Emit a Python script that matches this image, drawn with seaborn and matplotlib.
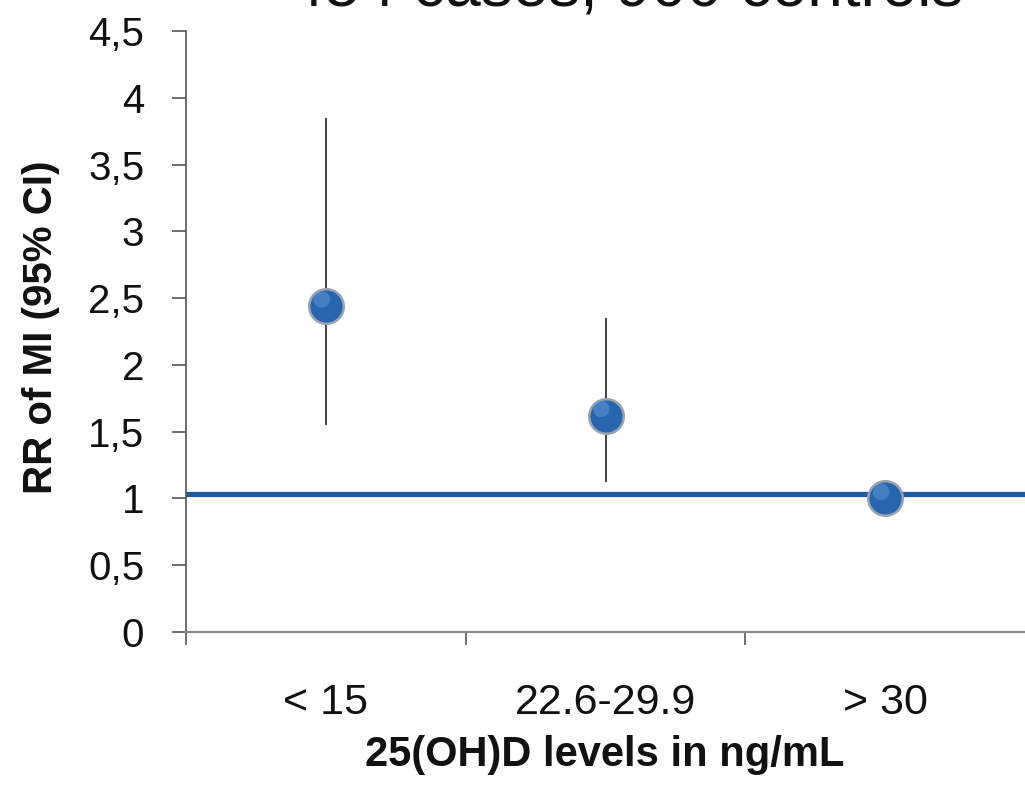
import matplotlib
matplotlib.use("Agg")
import matplotlib.pyplot as plt
import seaborn as sns
import pandas as pd

# ---- data ----
categories = ["< 15", "22.6-29.9", "> 30"]
rr = [2.44, 1.62, 1.0]
ci_low = [1.55, 1.12, 1.0]
ci_high = [3.85, 2.35, 1.0]
reference_rr = 1.03
y_ticks = [0, 0.5, 1, 1.5, 2, 2.5, 3, 3.5, 4, 4.5]
y_tick_labels = ["0", "0,5", "1", "1,5", "2", "2,5", "3", "3,5", "4", "4,5"]
title_text = "454 cases, 900 controls"
x_label = "25(OH)D levels in ng/mL"
y_label = "RR of MI (95% CI)"

sns.set_theme(style="white")
plt.rcParams["font.family"] = ["Liberation Sans", "DejaVu Sans"]

df = pd.DataFrame({"pos": range(len(categories)), "cat": categories, "rr": rr,
                   "lo": ci_low, "hi": ci_high})

fig = plt.figure(figsize=(10.25, 7.99), dpi=100)
ax = fig.add_axes([186 / 1025, 1 - 632 / 799, 1 - 186 / 1025, (632 - 31) / 799])

# reference line
ax.axhline(reference_rr, color="#1d5a9c", lw=3.8, zorder=1)

# CI lines
ax.vlines(df["pos"], df["lo"], df["hi"], color="#333333", lw=1.3, zorder=2)

# points
sns.scatterplot(data=df, x="pos", y="rr", ax=ax, s=620, color="#2766ae",
                edgecolor="#9aa3b0", linewidth=1.8, zorder=3, legend=False)
# highlight for sphere look
ax.scatter(df["pos"] - 0.015, df["rr"] + 0.05, s=140, color="#5b93d3",
           edgecolor="none", alpha=0.6, zorder=4)

ax.set_xlim(-0.5, len(categories) - 0.5)
ax.set_ylim(0, 4.5)

# x ticks: boundaries (major, unlabeled) + category labels (minor)
ax.set_xticks([i - 0.5 for i in range(len(categories))])
ax.set_xticklabels([])
ax.set_xticks(list(range(len(categories))), minor=True)
ax.set_xticklabels(categories, minor=True, fontsize=31, color="#111111")
ax.tick_params(axis="x", which="major", direction="out", length=9, width=1.2,
               color="#555555", bottom=True)
ax.tick_params(axis="x", which="minor", length=0, pad=37)

ax.set_yticks(y_ticks)
ax.set_yticklabels(y_tick_labels, fontsize=29, color="#111111")
ax.tick_params(axis="y", direction="out", length=10, width=1.2, color="#555555",
               left=True, pad=20)

for s in ["top", "right"]:
    ax.spines[s].set_visible(False)
ax.spines["left"].set_color("#555555")
ax.spines["left"].set_linewidth(1.2)
ax.spines["bottom"].set_color("#888888")
ax.spines["bottom"].set_linewidth(1.6)

ax.set_xlabel(x_label, fontsize=30, fontweight="bold", color="#111111")
ax.xaxis.set_label_coords((605 - 186) / 839, (632 - 735) / 601)
ax.set_ylabel(y_label, fontsize=29, fontweight="bold", color="#111111")
ax.yaxis.set_label_coords((60 - 186) / 839, (632 - 327) / 601)

fig.text(626 / 1025, 1 - 6 / 799, title_text, fontsize=46, ha="center",
         va="baseline", color="#111111")

fig.savefig("out.png", dpi=100)
